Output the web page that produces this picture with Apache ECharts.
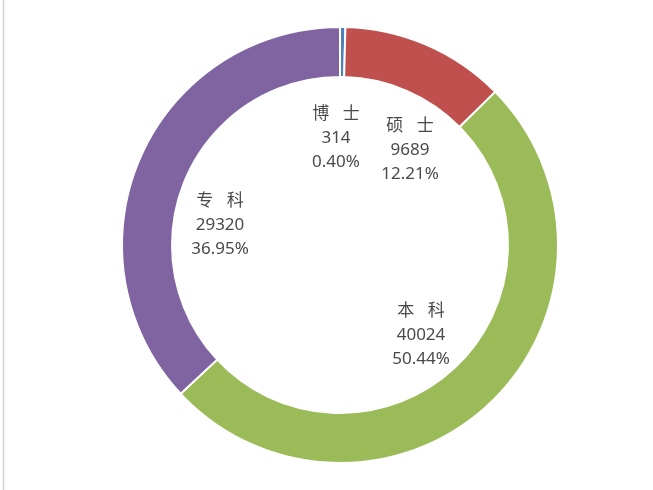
<!DOCTYPE html>
<html><head><meta charset="utf-8">
<script src="https://cdn.jsdelivr.net/npm/echarts@6/dist/echarts.min.js"></script>
<style>html,body{margin:0;padding:0;background:#fff}#c{width:653px;height:490px}</style>
</head><body><div id="c"></div>
<script>
const categories = ['博士', '硕士', '本科', '专科'];
const values = [314, 9689, 40024, 29320];
const colors = ['#4F81BD', '#C0504D', '#9BBB59', '#8064A2'];

const total = values.reduce((a, b) => a + b, 0);
const labelPos = [[336, 138], [410, 150], [421, 335], [220, 225]];

const chart = echarts.init(document.getElementById('c'));
chart.setOption({
  animation: false,
  graphic: [{
    type: 'line', shape: { x1: 3.5, y1: 0, x2: 3.5, y2: 490 },
    style: { stroke: '#d4d4d4', lineWidth: 1.5 }
  }],
  series: [{
    type: 'pie',
    center: [340, 245],
    radius: [168, 218],
    startAngle: 90,
    clockwise: true,
    itemStyle: { borderColor: '#fff', borderWidth: 2 },
    label: {
      show: true,
      position: 'inside',
      color: '#4a4a4a',
      fontFamily: '"Noto Sans", "Noto Sans CJK SC", sans-serif',
      fontSize: 17,
      lineHeight: 24,
      align: 'center',
      formatter: p => categories[p.dataIndex].split('').join('   ') + '\n' + p.value + '\n' + (p.value / total * 100).toFixed(2) + '%'
    },
    labelLayout: p => ({ x: labelPos[p.dataIndex][0], y: labelPos[p.dataIndex][1], align: 'center', verticalAlign: 'middle' }),
    labelLine: { show: false },
    emphasis: { disabled: true },
    data: categories.map((n, i) => ({ name: n, value: values[i], itemStyle: { color: colors[i] } }))
  }]
});
</script></body></html>
